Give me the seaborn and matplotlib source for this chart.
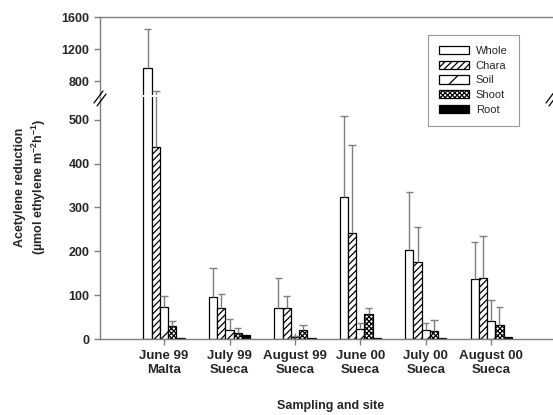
import numpy as np
import pandas as pd
import matplotlib
matplotlib.use("Agg")
import matplotlib.pyplot as plt
from matplotlib.patches import Patch
from matplotlib.lines import Line2D
import seaborn as sns

# Sampling dates / sites
groups = ["June 99\nMalta", "July 99\nSueca", "August 99\nSueca",
          "June 00\nSueca", "July 00\nSueca", "August 00\nSueca"]
components = ["Whole", "Chara", "Soil", "Shoot", "Root"]

# Mean acetylene reduction values
whole = [960, 96, 70, 323, 202, 137]
chara = [437, 71, 70, 241, 175, 140]
soil = [74, 20, 4, 23, 20, 40]
shoot = [30, 13, 20, 58, 18, 33]
root = [2, 9, 2, 2, 2, 5]

# Upper error bars (only the + side is drawn)
whole_err = [490, 67, 69, 186, 134, 85]
chara_err = [243, 32, 28, 202, 81, 94]
soil_err = [24, 25, 3, 14, 16, 50]
shoot_err = [12, 11, 12, 12, 25, 41]
root_err = [0, 0, 0, 0, 0, 0]

values = [whole, chara, soil, shoot, root]
errors = [whole_err, chara_err, soil_err, shoot_err, root_err]

df = pd.DataFrame({
    "site": np.tile(groups, len(components)),
    "component": np.repeat(components, len(groups)),
    "rate": np.concatenate(values),
})

sns.set_style("ticks")
plt.rcParams["font.family"] = ["Liberation Sans", "DejaVu Sans"]
plt.rcParams["mathtext.fontset"] = "custom"
plt.rcParams["mathtext.bf"] = "Liberation Sans:bold"
plt.rcParams["hatch.linewidth"] = 0.9

W, H = 553, 415
fig = plt.figure(figsize=(W / 100, H / 100), dpi=100)


def fx(px):
    return px / W


def fy(py):
    return 1 - py / H


left, right = 100, 552
ax_lo = fig.add_axes([fx(left), fy(339), fx(right - left), fy(97) - fy(339)])
ax_hi = fig.add_axes([fx(left), fy(95), fx(right - left), fy(17) - fy(95)])

faces = ["white", "white", "white", "white", "black"]
hatches = [None, "/////", "/", "xxxxxxx", None]
grey = "#7f7f7f"

for ax in (ax_lo, ax_hi):
    sns.barplot(data=df, x="site", y="rate", hue="component", order=groups,
                hue_order=components, width=0.63, errorbar=None, ax=ax,
                legend=False)
    for i, cont in enumerate(ax.containers):
        for j, p in enumerate(cont.patches):
            p.set_facecolor(faces[i])
            p.set_edgecolor("black")
            p.set_linewidth(0.9)
            if hatches[i]:
                p.set_hatch(hatches[i])
            err = errors[i][j]
            if err > 0:
                xc = p.get_x() + p.get_width() / 2
                top = p.get_height()
                cw = p.get_width() * 0.45
                ax.vlines(xc, top, top + err, color=grey, lw=1, zorder=1)
                ax.hlines(top + err, xc - cw, xc + cw, color=grey, lw=1, zorder=1)
    ax.set_xlim(-0.98, 5.93)
    ax.set_xlabel("")
    ax.set_ylabel("")
    ax.tick_params(axis="y", direction="out", length=4, width=1, color=grey,
                   labelsize=9)

ax_lo.set_ylim(0, 552)
ax_lo.set_yticks([0, 100, 200, 300, 400, 500])
ax_lo.set_yticklabels(["0", "100", "200", "300", "400", "500"],
                      fontweight="bold", fontsize=9)
ax_lo.set_xticks(range(len(groups)))
ax_lo.set_xticklabels(groups, fontweight="bold", fontsize=9.5)
ax_lo.tick_params(axis="x", direction="inout", length=8, width=1, color=grey,
                  pad=4)
for s in ["top", "right"]:
    ax_lo.spines[s].set_visible(False)
for s in ["left", "bottom"]:
    ax_lo.spines[s].set_color(grey)
    ax_lo.spines[s].set_linewidth(1)

ax_hi.set_ylim(628, 1600)
ax_hi.set_yticks([800, 1200, 1600])
ax_hi.set_yticklabels(["800", "1200", "1600"], fontweight="bold", fontsize=9)
ax_hi.set_xticks([])
for s in ["bottom", "right"]:
    ax_hi.spines[s].set_visible(False)
for s in ["left", "top"]:
    ax_hi.spines[s].set_color(grey)
    ax_hi.spines[s].set_linewidth(1)

# axis break marks
for (x0, y0) in [(94, 103), (97, 106), (546, 103), (549, 106)]:
    fig.add_artist(Line2D([fx(x0), fx(x0 + 9)], [fy(y0), fy(y0 - 12)],
                          color="black", lw=0.9))

# labels
fig.text(fx(31), fy(187),
         "Acetylene reduction\n(µmol ethylene m$^{\\mathbf{-2}}$h$^{\\mathbf{-1}}$)",
         rotation=90, ha="center", va="center", fontsize=9, fontweight="bold",
         multialignment="center", linespacing=1.3)
fig.text(fx(331), fy(406), "Sampling and site", ha="center", va="center",
         fontsize=9, fontweight="bold")

handles = [Patch(facecolor=faces[i], edgecolor="black", hatch=hatches[i],
                 linewidth=0.9, label=components[i]) for i in range(5)]
leg = fig.legend(handles=handles, loc="upper left",
                 bbox_to_anchor=(fx(428), fy(35)), borderaxespad=0,
                 fontsize=8, handlelength=2.7, handleheight=0.75,
                 labelspacing=0.42, handletextpad=0.6, borderpad=1.0,
                 fancybox=False, frameon=True)
leg.get_frame().set_edgecolor(grey)
leg.get_frame().set_linewidth(0.8)

fig.savefig("out.png", dpi=100)
